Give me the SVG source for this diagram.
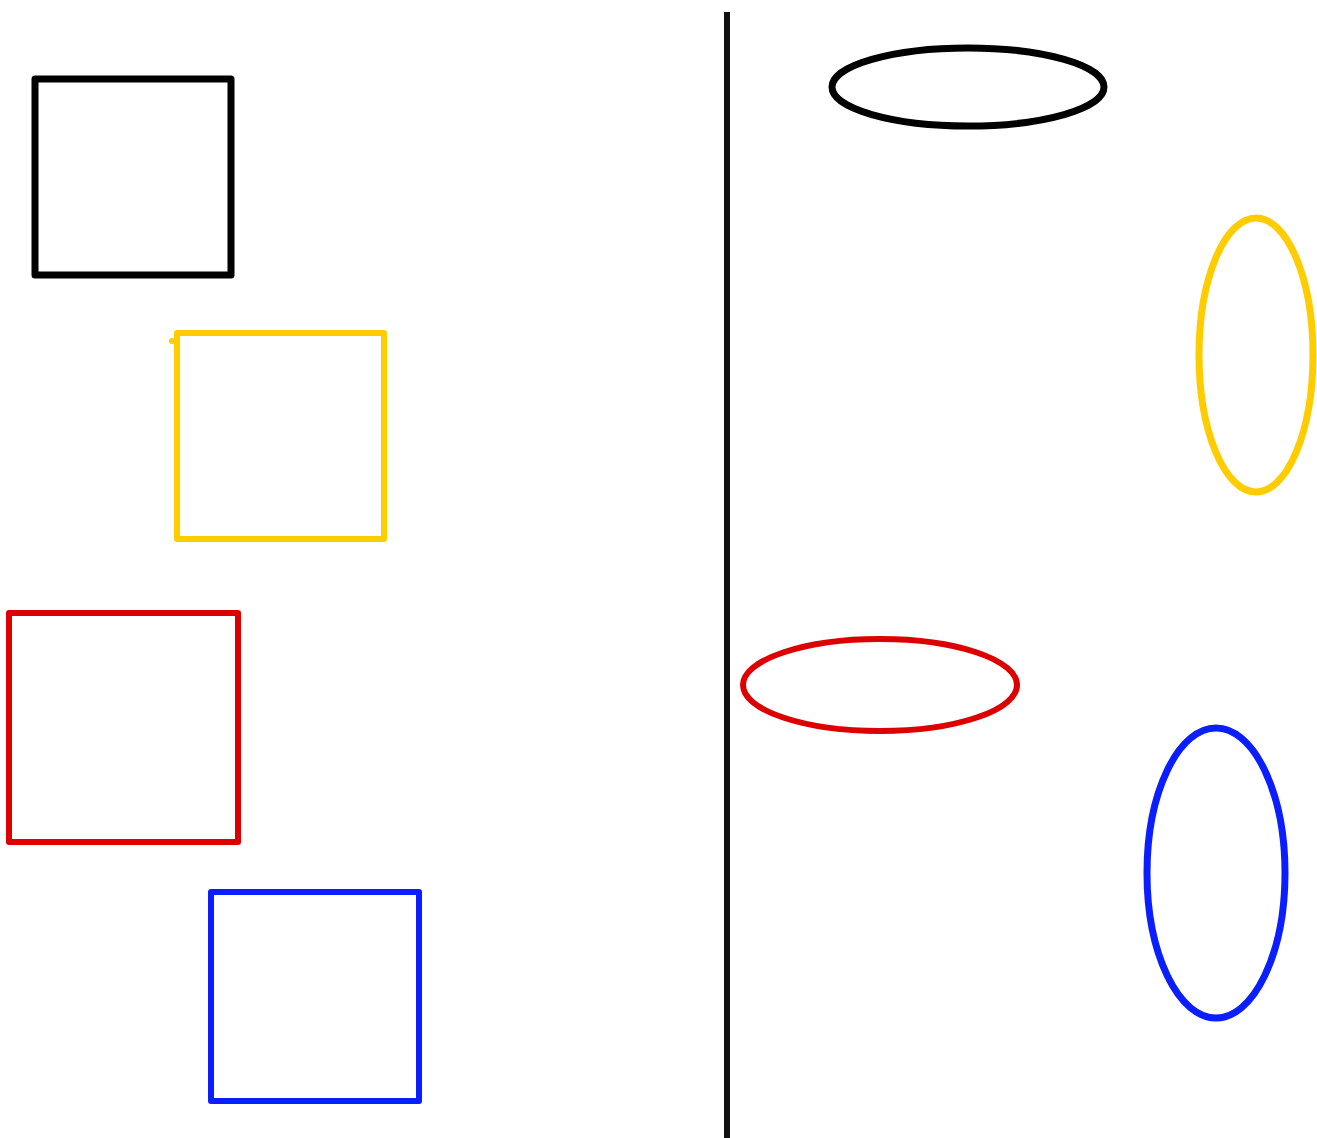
<svg xmlns="http://www.w3.org/2000/svg" width="1317" height="1138" viewBox="0 0 1317 1138">
<style>
.s{fill:none;stroke-linejoin:round;stroke-linecap:round}
.k{stroke:#000}
.y{stroke:#FFCC00}
.r{stroke:#DD0000}
.b{stroke:#0A1EFF}
</style>
<rect width="1317" height="1138" fill="#fff"/>
<g id="divider"><line x1="727" y1="12" x2="727" y2="1138" stroke="#111" stroke-width="6"/></g>
<g id="square-black"><rect class="s k" x="35" y="79" width="196" height="196" stroke-width="7"/></g>
<g id="square-yellow"><rect class="s y" x="177" y="333" width="207" height="206" stroke-width="6"/><circle cx="172" cy="341" r="3" fill="#FFCC00"/></g>
<g id="square-red"><rect class="s r" x="9" y="613" width="229" height="229" stroke-width="6"/></g>
<g id="square-blue"><rect class="s b" x="211" y="892" width="208" height="209" stroke-width="6"/></g>
<g id="ellipse-black"><ellipse class="s k" cx="968" cy="87" rx="136" ry="39" stroke-width="7"/></g>
<g id="ellipse-yellow"><ellipse class="s y" cx="1256" cy="355" rx="57" ry="137" stroke-width="7"/></g>
<g id="ellipse-red"><ellipse class="s r" cx="880" cy="685" rx="137" ry="46" stroke-width="6"/></g>
<g id="ellipse-blue"><ellipse class="s b" cx="1216" cy="873" rx="69" ry="145" stroke-width="7"/></g>
</svg>
